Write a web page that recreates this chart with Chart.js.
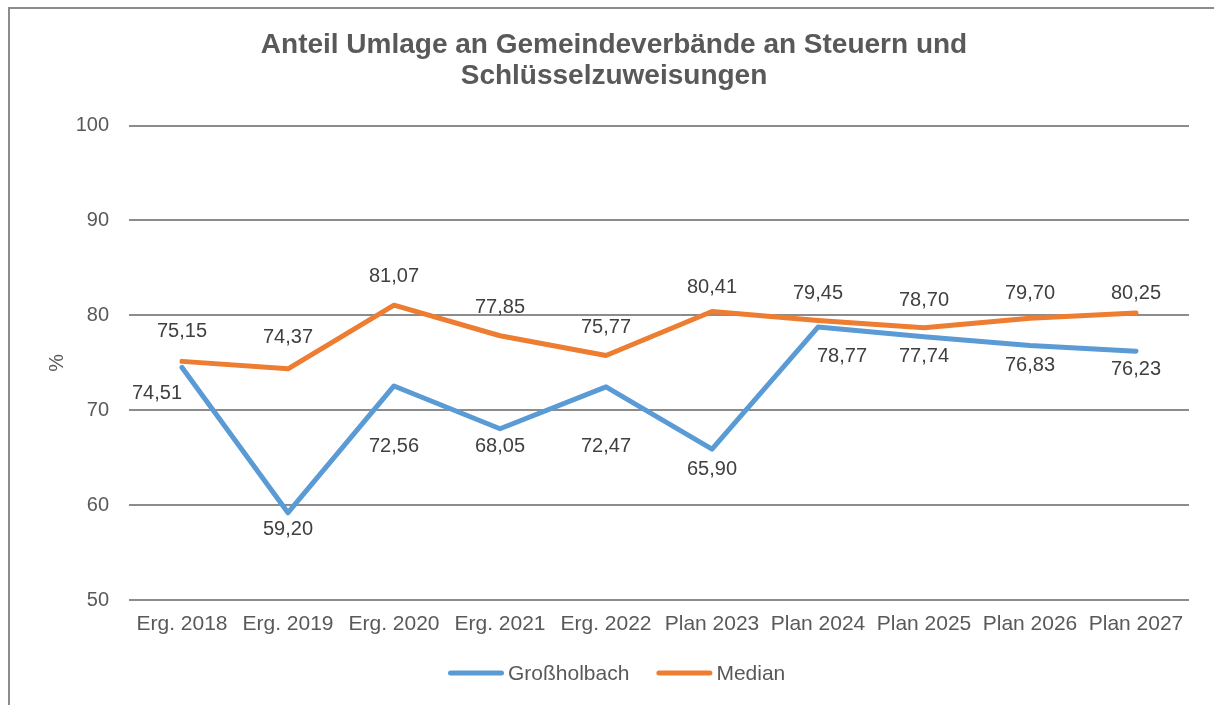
<!DOCTYPE html>
<html>
<head>
<meta charset="utf-8">
<script src="https://cdn.jsdelivr.net/npm/chart.js@4.4.1/dist/chart.umd.min.js"></script>
<style>
  html, body { margin: 0; padding: 0; background: #ffffff; }
  #wrap { width: 1214px; height: 705px; position: relative; }
</style>
</head>
<body>
<div id="wrap"><canvas id="c" width="1214" height="705"></canvas></div>
<script>
const categories = ['Erg. 2018', 'Erg. 2019', 'Erg. 2020', 'Erg. 2021', 'Erg. 2022', 'Plan 2023', 'Plan 2024', 'Plan 2025', 'Plan 2026', 'Plan 2027'];
const grossholbach = [74.51, 59.20, 72.56, 68.05, 72.47, 65.90, 78.77, 77.74, 76.83, 76.23];
const median = [75.15, 74.37, 81.07, 77.85, 75.77, 80.41, 79.45, 78.70, 79.70, 80.25];
const seriesNames = ['Großholbach', 'Median'];
const yTicks = [50, 60, 70, 80, 90, 100];
const titleLines = ['Anteil Umlage an Gemeindeverbände an Steuern und', 'Schlüsselzuweisungen'];
const yTitle = '%';

// label placement (styling, px offsets from each point)
const labelShift = [
  { dx: [-25, 0, 0, 0, 0, 0, 24, 0, 0, 0], dy: [26, 17, 61, 18, 60, 20, 29, 20, 20, 18] },
  { dx: [0, 0, 0, 0, 0, 0, 0, 0, 0, 0], dy: [-30, -31, -29, -28, -28, -24, -27, -27, -25, -20] }
];

const FONT = "'Liberation Sans', Arial, sans-serif";
const BLUE = '#5B9BD5';
const ORANGE = '#ED7D31';

const fmt = v => v.toFixed(2).replace('.', ',');

const framePlugin = {
  id: 'frame',
  beforeDraw(chart) {
    const ctx = chart.ctx;
    ctx.save();
    ctx.fillStyle = '#ffffff';
    ctx.fillRect(0, 0, chart.width, chart.height);
    ctx.strokeStyle = '#8c8c8c';
    ctx.lineWidth = 2;
    ctx.strokeRect(9, 8, 1400, 900);
    ctx.restore();
  }
};

const labelPlugin = {
  id: 'valueLabels',
  afterDatasetsDraw(chart) {
    const ctx = chart.ctx;
    ctx.save();
    ctx.font = '20px ' + FONT;
    ctx.fillStyle = '#404040';
    ctx.textAlign = 'center';
    ctx.textBaseline = 'middle';
    chart.data.datasets.forEach((ds, di) => {
      const meta = chart.getDatasetMeta(di);
      meta.data.forEach((pt, i) => {
        const s = labelShift[di];
        ctx.fillText(fmt(ds.data[i]), pt.x + s.dx[i], pt.y + s.dy[i]);
      });
    });
    ctx.restore();
  }
};

const legendPlugin = {
  id: 'customLegend',
  afterDraw(chart) {
    const ctx = chart.ctx;
    ctx.save();
    ctx.font = '21px ' + FONT;
    const lineLen = 56, gapText = 4, gapItem = 27;
    let x = 448;
    const y = 673;
    chart.data.datasets.forEach(ds => {
      const w = ctx.measureText(ds.label).width;
      ctx.strokeStyle = ds.borderColor;
      ctx.lineWidth = 5;
      ctx.lineCap = 'round';
      ctx.beginPath();
      ctx.moveTo(x + 2.5, y);
      ctx.lineTo(x + lineLen - 2.5, y);
      ctx.stroke();
      ctx.fillStyle = '#595959';
      ctx.textAlign = 'left';
      ctx.textBaseline = 'middle';
      ctx.fillText(ds.label, x + lineLen + gapText, y + 1);
      x += lineLen + gapText + w + gapItem;
    });
    ctx.restore();
  }
};

new Chart(document.getElementById('c'), {
  type: 'line',
  data: {
    labels: categories,
    datasets: [
      { label: seriesNames[0], data: grossholbach, borderColor: BLUE, backgroundColor: BLUE, borderWidth: 5, pointRadius: 0, tension: 0, borderCapStyle: 'round', borderJoinStyle: 'round', order: 1 },
      { label: seriesNames[1], data: median, borderColor: ORANGE, backgroundColor: ORANGE, borderWidth: 5, pointRadius: 0, tension: 0, borderCapStyle: 'round', borderJoinStyle: 'round', order: 0 }
    ]
  },
  options: {
    responsive: false,
    animation: false,
    devicePixelRatio: 1,
    layout: { padding: { left: 39, right: 25, top: 0, bottom: 65 } },
    plugins: {
      legend: { display: false },
      tooltip: { enabled: false },
      title: {
        display: true,
        text: titleLines,
        color: '#595959',
        font: { family: FONT, size: 28, weight: 'bold', lineHeight: 1.1 },
        padding: { top: 30, bottom: 34 }
      }
    },
    scales: {
      x: {
        offset: true,
        grid: { display: false, drawTicks: false },
        border: { display: false },
        ticks: { color: '#595959', font: { family: FONT, size: 21 }, padding: 12, maxRotation: 0, autoSkip: false },
        afterFit(scale) { scale.height = 40; }
      },
      y: {
        min: 50,
        max: 100,
        afterBuildTicks(scale) { scale.ticks = yTicks.map(v => ({ value: v })); },
        grid: { color: '#8c8c8c', lineWidth: 2, drawTicks: false },
        border: { display: false },
        ticks: { color: '#595959', font: { family: FONT, size: 20 }, padding: 20 },
        title: { display: true, text: yTitle, color: '#595959', font: { family: FONT, size: 20 }, padding: { top: 6, bottom: 0 } },
        afterFit(scale) { scale.width = 90; }
      }
    }
  },
  plugins: [framePlugin, labelPlugin, legendPlugin]
});
</script>
</body>
</html>
